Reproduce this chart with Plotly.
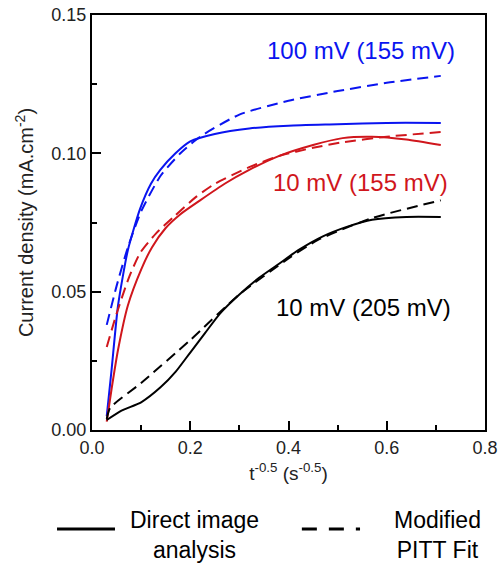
import plotly.graph_objects as go

FONT = "Liberation Sans, Arial, sans-serif"

# ---- data ----
blue_solid_x = [0.03, 0.04, 0.053, 0.073, 0.098, 0.12, 0.139, 0.17, 0.2, 0.25, 0.32, 0.4, 0.5, 0.6, 0.71]
blue_solid_y = [0.005, 0.022, 0.045, 0.065, 0.080, 0.089, 0.094, 0.100, 0.1043, 0.107, 0.109, 0.110, 0.1105, 0.111, 0.111]

blue_dash_x = [0.03, 0.05, 0.073, 0.1, 0.14, 0.18, 0.22, 0.3, 0.4, 0.5, 0.6, 0.71]
blue_dash_y = [0.038, 0.052, 0.066, 0.079, 0.092, 0.100, 0.106, 0.114, 0.119, 0.1225, 0.1255, 0.128]

red_solid_x = [0.03, 0.04, 0.053, 0.073, 0.1, 0.122, 0.15, 0.18, 0.22, 0.27, 0.32, 0.38, 0.45, 0.51, 0.57, 0.64, 0.71]
red_solid_y = [0.003, 0.015, 0.029, 0.045, 0.058, 0.066, 0.073, 0.078, 0.083, 0.089, 0.094, 0.099, 0.103, 0.1055, 0.106, 0.105, 0.103]

red_dash_x = [0.03, 0.05, 0.075, 0.098, 0.13, 0.166, 0.21, 0.25, 0.32, 0.38, 0.45, 0.51, 0.6, 0.71]
red_dash_y = [0.030, 0.042, 0.055, 0.064, 0.071, 0.077, 0.084, 0.089, 0.095, 0.099, 0.102, 0.104, 0.106, 0.1077]

black_solid_x = [0.03, 0.06, 0.1, 0.14, 0.17, 0.2, 0.23, 0.26, 0.3, 0.34, 0.38, 0.42, 0.47, 0.52, 0.57, 0.64, 0.71]
black_solid_y = [0.0036, 0.007, 0.010, 0.0155, 0.021, 0.028, 0.035, 0.042, 0.049, 0.055, 0.060, 0.065, 0.070, 0.0735, 0.076, 0.077, 0.077]

black_dash_x = [0.03, 0.037, 0.1, 0.2, 0.3, 0.4, 0.46, 0.57, 0.71]
black_dash_y = [0.004, 0.008, 0.017, 0.0325, 0.049, 0.062, 0.0687, 0.0766, 0.083]

labels = ["100 mV (155 mV)", "10 mV (155 mV)", "10 mV (205 mV)"]
label_x = [0.547, 0.547, 0.553]
label_y = [0.1373, 0.0893, 0.0441]

BLUE = "#0a14f0"
RED = "#d0161c"
BLACK = "#000000"
DASH = "11px,6px"

fig = go.Figure()
series = [
    (blue_solid_x, blue_solid_y, BLUE, "solid"),
    (blue_dash_x, blue_dash_y, BLUE, DASH),
    (red_solid_x, red_solid_y, RED, "solid"),
    (red_dash_x, red_dash_y, RED, DASH),
    (black_solid_x, black_solid_y, BLACK, "solid"),
    (black_dash_x, black_dash_y, BLACK, DASH),
]
for xs, ys, c, d in series:
    fig.add_trace(go.Scatter(x=xs, y=ys, mode="lines",
                             line=dict(color=c, width=2, dash=d, shape="spline", smoothing=0.6),
                             showlegend=False, hoverinfo="skip"))

for t, lx, ly, c in zip(labels, label_x, label_y, [BLUE, RED, BLACK]):
    fig.add_annotation(x=lx, y=ly, xref="x", yref="y", text=t, showarrow=False,
                       font=dict(family=FONT, size=24, color=c), bgcolor="white")

# custom legend at bottom
fig.add_shape(type="line", xref="paper", yref="paper", x0=-0.089, x1=0.0585, y0=-0.2386, y1=-0.2386,
              line=dict(color="black", width=3))
fig.add_shape(type="line", xref="paper", yref="paper", x0=0.534, x1=0.682, y0=-0.2386, y1=-0.2386,
              line=dict(color="black", width=3, dash="15px,12px"))
fig.add_annotation(xref="paper", yref="paper", x=0.262, y=-0.253, xanchor="center", yanchor="middle",
                   text="Direct image<br>analysis",
                   showarrow=False, font=dict(family=FONT, size=23, color="black"))
fig.add_annotation(xref="paper", yref="paper", x=0.878, y=-0.253, xanchor="center", yanchor="middle",
                   text="Modified<br>PITT Fit",
                   showarrow=False, font=dict(family=FONT, size=23, color="black"))

axis_common = dict(showline=True, linecolor="black", linewidth=2, mirror=True, ticks="inside",
                   ticklen=9, tickwidth=1.5, tickcolor="black", showgrid=False, zeroline=False,
                   automargin=False,
                   tickfont=dict(family=FONT, size=18, color="#222"))
fig.update_xaxes(range=[0, 0.8], tickvals=[0, 0.2, 0.4, 0.6, 0.8], ticktext=["0.0", "0.2", "0.4", "0.6", "0.8"],
                 minor=dict(tickvals=[0.1, 0.3, 0.5, 0.7], ticks="inside", ticklen=5, tickcolor="black", tickwidth=1.5),
                 title=dict(text="t<sup>-0.5</sup> (s<sup>-0.5</sup>)", font=dict(family=FONT, size=19, color="#222"), standoff=10),
                 **axis_common)
fig.update_yaxes(range=[0, 0.15], tickvals=[0, 0.05, 0.10, 0.15], ticktext=["0.00", "0.05", "0.10", "0.15"],
                 minor=dict(tickvals=[0.025, 0.075, 0.125], ticks="inside", ticklen=5, tickcolor="black", tickwidth=1.5),
                 title=dict(text="Current density (mA.cm<sup>-2</sup>)", font=dict(family=FONT, size=20, color="#222"), standoff=12),
                 **axis_common)

fig.update_layout(width=498, height=563, margin=dict(l=92, r=13, t=15, b=133),
                  plot_bgcolor="white", paper_bgcolor="white", showlegend=False)

fig.write_html("out.html")
